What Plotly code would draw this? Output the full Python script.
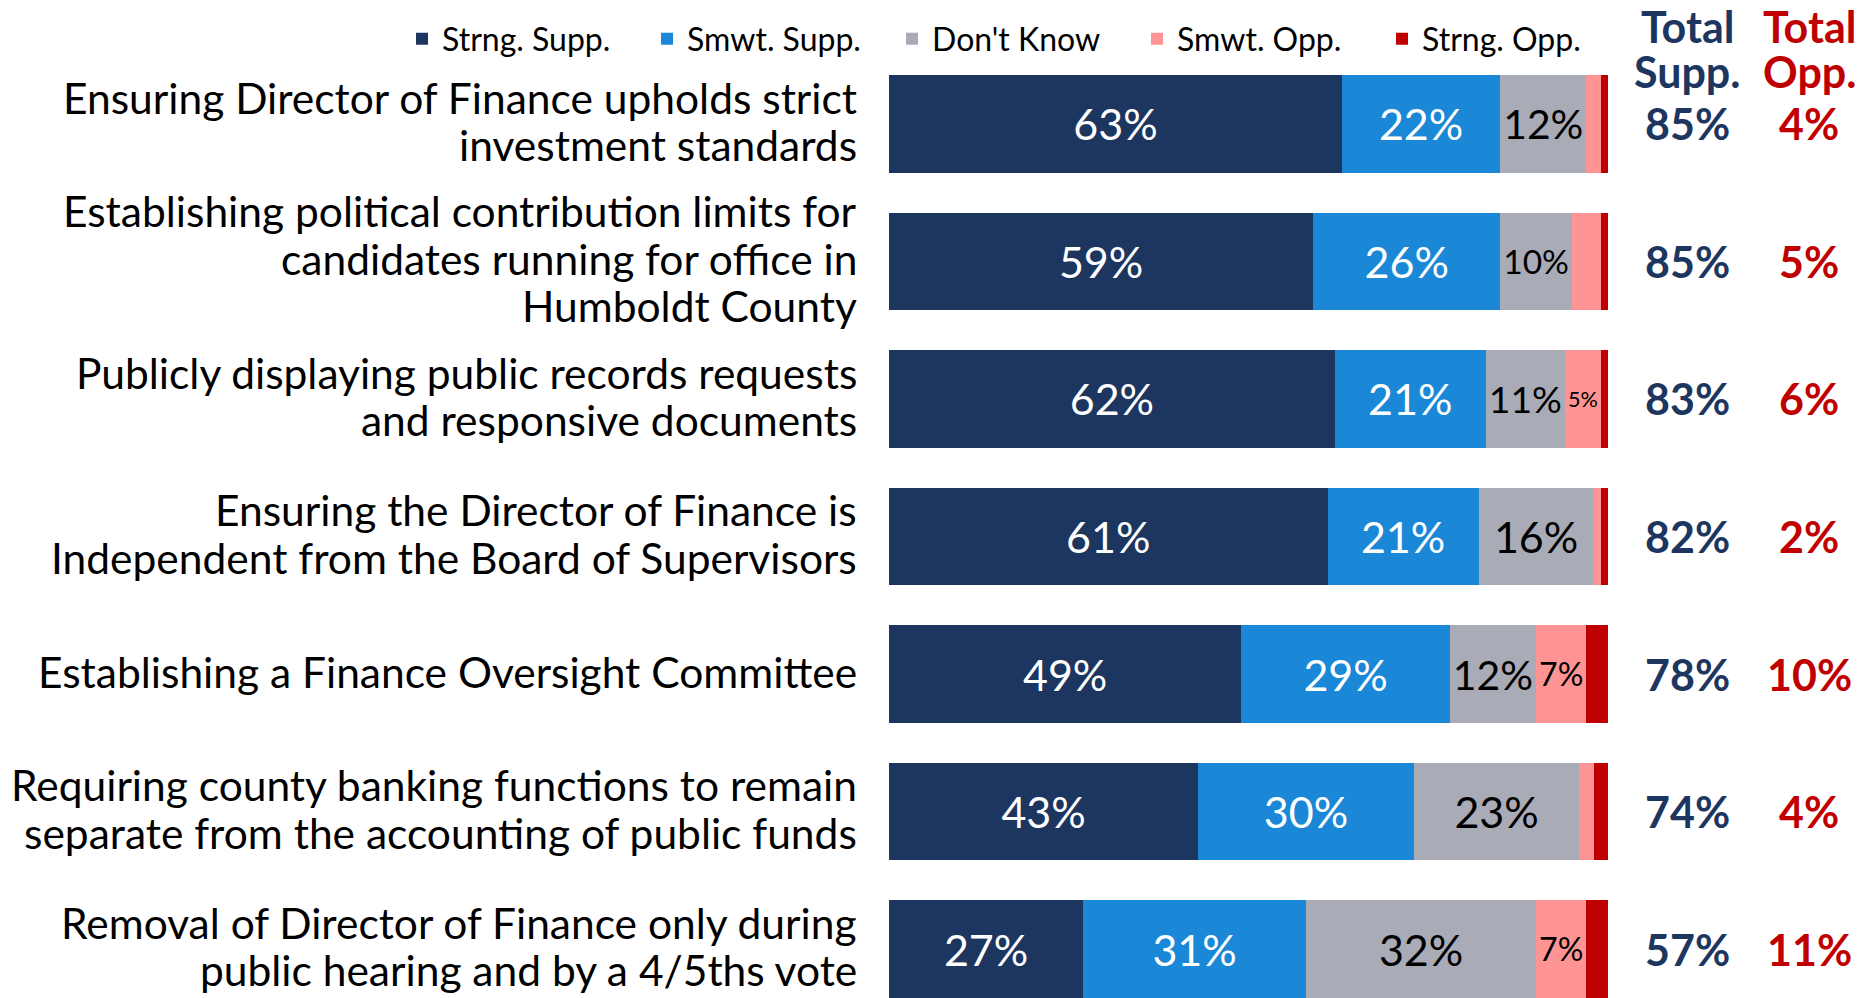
import plotly.graph_objects as go

# Survey items (top to bottom) and the lines each label is broken into
categories = [
    "Ensuring Director of Finance upholds strict investment standards",
    "Establishing political contribution limits for candidates running for office in Humboldt County",
    "Publicly displaying public records requests and responsive documents",
    "Ensuring the Director of Finance is Independent from the Board of Supervisors",
    "Establishing a Finance Oversight Committee",
    "Requiring county banking functions to remain separate from the accounting of public funds",
    "Removal of Director of Finance only during public hearing and by a 4/5ths vote",
]
category_lines = [
    ["Ensuring Director of Finance upholds strict", "investment standards"],
    ["Establishing political contribution limits for", "candidates running for office in", "Humboldt County"],
    ["Publicly displaying public records requests", "and responsive documents"],
    ["Ensuring the Director of Finance is", "Independent from the Board of Supervisors"],
    ["Establishing a Finance Oversight Committee"],
    ["Requiring county banking functions to remain", "separate from the accounting of public funds"],
    ["Removal of Director of Finance only during", "public hearing and by a 4/5ths vote"],
]

# Response shares (%)
strng_supp = [63, 59, 62, 61, 49, 43, 27]
smwt_supp = [22, 26, 21, 21, 29, 30, 31]
dont_know = [12, 10, 11, 16, 12, 23, 32]
smwt_opp = [2, 4, 5, 1, 7, 2, 7]
strng_opp = [1, 1, 1, 1, 3, 2, 4]

total_supp = [85, 85, 83, 82, 78, 74, 57]
total_opp = [4, 5, 6, 2, 10, 4, 11]

series_names = ["Strng. Supp.", "Smwt. Supp.", "Don't Know", "Smwt. Opp.", "Strng. Opp."]
series_colors = ["#1D365F", "#1A88D7", "#A9ABB7", "#FF9494", "#C00000"]
text_colors = ["white", "white", "black", "black", "white"]

FONT = "Lato"
NAVY = "#1D365F"
RED = "#C00000"
LINE_PX = 47.5       # spacing between label lines
SUPP_X, OPP_X = 1.110, 1.2796   # paper x of the two total columns

fig = go.Figure()
for name, vals, col, tcol in zip(series_names,
                                 [strng_supp, smwt_supp, dont_know, smwt_opp, strng_opp],
                                 series_colors, text_colors):
    fig.add_trace(go.Bar(
        name=name,
        y=categories,
        x=vals,
        orientation="h",
        marker=dict(color=col, line=dict(width=0)),
        text=[f"{v}%" if v >= 5 else "" for v in vals],
        textposition="inside",
        insidetextanchor="middle",
        textangle=0,
        textfont=dict(family=FONT, size=43, color=tcol),
        hoverinfo="skip",
    ))

annotations = []
# Item labels, right-aligned left of the bars
for cat, lines in zip(categories, category_lines):
    n = len(lines)
    for k, line in enumerate(lines):
        off = (k - (n - 1) / 2) * LINE_PX
        annotations.append(dict(x=-0.0417, xref="paper", y=cat, yref="y", text=line,
                                showarrow=False, xanchor="right", yanchor="middle",
                                yshift=-off + 3,
                                font=dict(family=FONT, size=42.5, color="black")))
# Column headers
for xv, col, l2 in [(SUPP_X, NAVY, "Supp."), (OPP_X, RED, "Opp.")]:
    annotations.append(dict(x=xv, xref="paper", y=1.0297, yref="paper", text="Total", showarrow=False,
                            font=dict(family=FONT, size=43, color=col, weight="bold"),
                            xanchor="center", yanchor="middle"))
    annotations.append(dict(x=xv, xref="paper", y=0.983, yref="paper", text=l2, showarrow=False,
                            font=dict(family=FONT, size=43, color=col, weight="bold"),
                            xanchor="center", yanchor="middle"))
# Totals per item
for cat, s, o in zip(categories, total_supp, total_opp):
    annotations.append(dict(x=SUPP_X, xref="paper", y=cat, yref="y", text=f"{s}%", showarrow=False,
                            font=dict(family=FONT, size=43, color=NAVY, weight="bold"),
                            xanchor="center", yanchor="middle"))
    annotations.append(dict(x=OPP_X, xref="paper", y=cat, yref="y", text=f"{o}%", showarrow=False,
                            font=dict(family=FONT, size=43, color=RED, weight="bold"),
                            xanchor="center", yanchor="middle"))

fig.update_layout(
    barmode="stack",
    bargap=0.29,
    width=1860,
    height=998,
    margin=dict(l=889, r=252, t=55, b=0, pad=0, autoexpand=False),
    paper_bgcolor="white",
    plot_bgcolor="white",
    font=dict(family=FONT, color="black"),
    showlegend=True,
    legend=dict(
        orientation="h",
        xref="paper", yref="paper",
        x=-0.6773, y=1.017,
        xanchor="left", yanchor="middle",
        traceorder="normal",
        entrywidth=200, entrywidthmode="pixels",
        font=dict(family=FONT, size=32, color="black"),
        bgcolor="rgba(0,0,0,0)",
    ),
    xaxis=dict(range=[0, 100], visible=False, fixedrange=True),
    yaxis=dict(
        range=[6.355, -0.5],
        showgrid=False, zeroline=False, showline=False,
        ticks="", showticklabels=False,
        fixedrange=True,
    ),
    annotations=annotations,
)

fig.write_html("out.html")
